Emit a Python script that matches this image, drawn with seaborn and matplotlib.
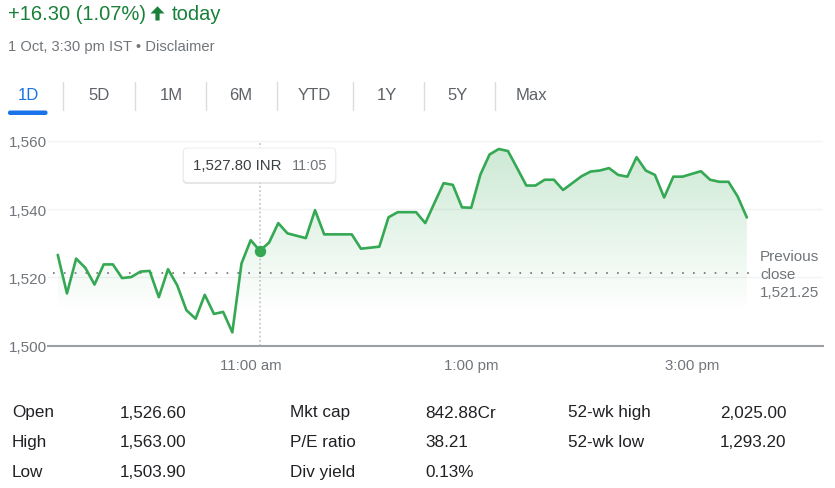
import numpy as np
import matplotlib
matplotlib.use("Agg")
import matplotlib.pyplot as plt
import seaborn as sns
from matplotlib.patches import FancyBboxPatch, Polygon
from matplotlib.transforms import IdentityTransform
from matplotlib.colors import to_rgb

# ---------------- data ----------------
prices = [
    1526.6, 1515.3, 1525.5, 1522.8, 1517.9, 1523.8, 1523.8, 1519.8, 1520.1, 1521.7,
    1521.9, 1514.2, 1522.4, 1517.7, 1510.4, 1507.9, 1514.9, 1509.3, 1509.9, 1503.9,
    1524.1, 1530.9, 1527.8, 1530.2, 1535.9, 1532.9, 1532.2, 1531.5, 1539.7, 1532.6,
    1532.6, 1532.6, 1532.6, 1528.4, 1528.7, 1529.0, 1537.6, 1539.1, 1539.1, 1539.1,
    1535.9, 1541.8, 1547.6, 1547.1, 1540.5, 1540.4, 1550.1, 1556.0, 1557.6, 1557.0,
    1552.0, 1546.9, 1546.9, 1548.6, 1548.6, 1545.6, 1547.6, 1549.6, 1551.0, 1551.3,
    1552.0, 1550.0, 1549.5, 1555.2, 1551.3, 1550.0, 1543.4, 1549.5, 1549.5, 1550.3,
    1551.1, 1548.6, 1548.0, 1548.0, 1543.7, 1537.55,
]
start_hour = 9.25          # 9:15 am
interval_minutes = 5
prev_close = 1521.25
prev_close_label = "Previous\nclose\n1,521.25"

y_ticks = [1500, 1520, 1540, 1560]
y_tick_labels = ["1,500", "1,520", "1,540", "1,560"]
x_ticks = [11, 13, 15]
x_tick_labels = ["11:00 am", "1:00 pm", "3:00 pm"]

tooltip_hour = 11 + 5 / 60
tooltip_price = 1527.80
tooltip_value_text = "1,527.80 INR"
tooltip_time_text = "11:05"

change_text = "+16.30 (1.07%)"
today_text = "today"
subtitle_text = "1 Oct, 3:30 pm IST \u2022 Disclaimer"

tabs = ["1D", "5D", "1M", "6M", "YTD", "1Y", "5Y", "Max"]

stat_col1_labels = ["Open", "High", "Low"]
stat_col1_values = ["1,526.60", "1,563.00", "1,503.90"]
stat_col2_labels = ["Mkt cap", "P/E ratio", "Div yield"]
stat_col2_values = ["842.88Cr", "38.21", "0.13%"]
stat_col3_labels = ["52-wk high", "52-wk low"]
stat_col3_values = ["2,025.00", "1,293.20"]

# ---------------- style ----------------
W, H = 835, 489
sns.set_style("white")
plt.rcParams["font.family"] = ["Liberation Sans", "DejaVu Sans"]

GREEN_LINE = "#34a853"
GREEN_TEXT = "#188038"
GRAY = "#70757a"
DARK = "#202124"

fig = plt.figure(figsize=(W / 100, H / 100), dpi=100)
fig.patch.set_facecolor("white")

ax_left, ax_right = 48.3, 822.7
ax_bottom_px = 346.7
y_lo, y_hi = 1500, 1564
px_per_unit = 3.415
ax_top_px = ax_bottom_px - (y_hi - y_lo) * px_per_unit
ax = fig.add_axes([ax_left / W, 1 - ax_bottom_px / H,
                   (ax_right - ax_left) / W, (ax_bottom_px - ax_top_px) / H])

hours = start_hour + np.arange(len(prices)) * interval_minutes / 60.0
x_lo = 11 - (250.7 - ax_left) / 110.25
x_hi = 15 + (ax_right - 691.7) / 110.25

# gradient fill under the line
poly = ax.fill_between(hours, prices, y_lo, color="none", linewidth=0)
n = 256
ys = np.linspace(y_lo, y_hi, n)
alpha = 0.26 * np.clip((ys - 1510) / (1560 - 1510), 0, 1)
rgba = np.zeros((n, 1, 4))
rgba[..., :3] = to_rgb(GREEN_LINE)
rgba[:, 0, 3] = alpha
img = ax.imshow(rgba, extent=[hours[0], hours[-1], y_lo, y_hi], origin="lower",
                aspect="auto", zorder=1, interpolation="bilinear")
img.set_clip_path(poly.get_paths()[0], transform=ax.transData)

# main line
sns.lineplot(x=hours, y=prices, color=GREEN_LINE, linewidth=1.9, ax=ax, zorder=4)

# previous close dotted line
ax.plot([9.207, 15.538], [prev_close, prev_close], color="#5f6368", linewidth=1.1,
        dashes=(1.1, 6.0), zorder=3)

# tooltip vertical dotted line and point
ax.plot([tooltip_hour, tooltip_hour], [y_lo, 1560], color="#bdc1c6", linewidth=1.1,
        dashes=(1.2, 1.6), zorder=2)
ax.plot([tooltip_hour], [tooltip_price], "o", color=GREEN_LINE, markersize=7.2, zorder=5)

ax.set_xlim(x_lo, x_hi)
ax.set_ylim(y_lo, y_hi)
ax.set_yticks(y_ticks)
ax.set_yticklabels(y_tick_labels)
ax.set_xticks(x_ticks)
ax.set_xticklabels(x_tick_labels)
ax.yaxis.grid(True, color="#f1f3f4", linewidth=1.0, zorder=0)
ax.xaxis.grid(False)
ax.set_axisbelow(True)
for s in ["top", "right", "left"]:
    ax.spines[s].set_visible(False)
ax.spines["bottom"].set_color("#9aa0a6")
ax.spines["bottom"].set_linewidth(1.5)
ax.tick_params(axis="y", length=0, pad=1.0, labelsize=11, labelcolor=GRAY)
ax.tick_params(axis="x", length=6, width=1.1, color="#70757a", direction="out",
               pad=3.0, labelsize=10.8, labelcolor=GRAY)
ax.set_xlabel("")
ax.set_ylabel("")


def T(x, y, s, **kw):
    kw.setdefault("va", "center")
    kw.setdefault("ha", "left")
    return fig.text(x / W, 1 - y / H, s, **kw)


# previous close label
T(760, 275, prev_close_label, fontsize=11, color=GRAY, linespacing=1.36)

# tooltip box
ident = IdentityTransform()
bx, by_top, bw, bh = 183.3, 149.0, 152.4, 34.3
shadow = FancyBboxPatch((bx - 0.5, H - by_top - bh - 1.5), bw + 1, bh + 1,
                        boxstyle="round,pad=0,rounding_size=4", transform=ident,
                        facecolor="#000000", alpha=0.12, edgecolor="none", zorder=5)
box = FancyBboxPatch((bx, H - by_top - bh), bw, bh,
                     boxstyle="round,pad=0,rounding_size=4", transform=ident,
                     facecolor="white", edgecolor="#e8eaed", linewidth=0.6, zorder=6)
fig.add_artist(shadow)
fig.add_artist(box)
T(193, 166.5, tooltip_value_text, fontsize=10.8, color="#3c4043", zorder=7)
T(292, 166.5, tooltip_time_text, fontsize=10.5, color=GRAY, zorder=7)

# header
T(8, 14.5, change_text, fontsize=14.5, color=GREEN_TEXT)
ax_px = 157.5
arrow = Polygon([(ax_px - 7, H - 14.5), (ax_px, H - 7.3), (ax_px + 7, H - 14.5),
                 (ax_px + 2.1, H - 14.5), (ax_px + 2.1, H - 21.5),
                 (ax_px - 2.1, H - 21.5), (ax_px - 2.1, H - 14.5)],
                closed=True, transform=ident, facecolor=GREEN_TEXT, edgecolor="none")
fig.add_artist(arrow)
T(171.5, 14.5, today_text, fontsize=14.5, color=GREEN_TEXT)
T(8, 47, subtitle_text, fontsize=10.6, color=GRAY)

# tabs
tab_centers = [28.6, 99, 170.9, 241, 314, 386.6, 458, 531]
separators = [63, 135, 206, 277, 352.5, 423.6, 494.6]
for name, cx in zip(tabs, tab_centers):
    T(cx, 95, name, fontsize=12, ha="center",
      color="#1a73e8" if name == "1D" else "#5f6368")
for sx in separators:
    fig.add_artist(plt.Line2D([sx, sx], [H - 82.5, H - 111], transform=ident,
                              color="#dadce0", linewidth=1.0))
underline = FancyBboxPatch((8, H - 116), 39.5, 4.5,
                           boxstyle="round,pad=0,rounding_size=2", transform=ident,
                           facecolor="#1a73e8", edgecolor="none")
fig.add_artist(underline)

# stats table
rows_y = [413, 443, 472.5]
for i, (lab, val) in enumerate(zip(stat_col1_labels, stat_col1_values)):
    T(12, rows_y[i], lab, fontsize=12.3, color=DARK)
    T(120, rows_y[i], val, fontsize=12.3, color=DARK)
for i, (lab, val) in enumerate(zip(stat_col2_labels, stat_col2_values)):
    T(290, rows_y[i], lab, fontsize=12.3, color=DARK)
    T(425, rows_y[i], val, fontsize=12.3, color=DARK)
for i, (lab, val) in enumerate(zip(stat_col3_labels, stat_col3_values)):
    T(568, rows_y[i], lab, fontsize=12.3, color=DARK)
    T(720, rows_y[i], val, fontsize=12.3, color=DARK)

fig.savefig("out.png", dpi=100, facecolor="white")
